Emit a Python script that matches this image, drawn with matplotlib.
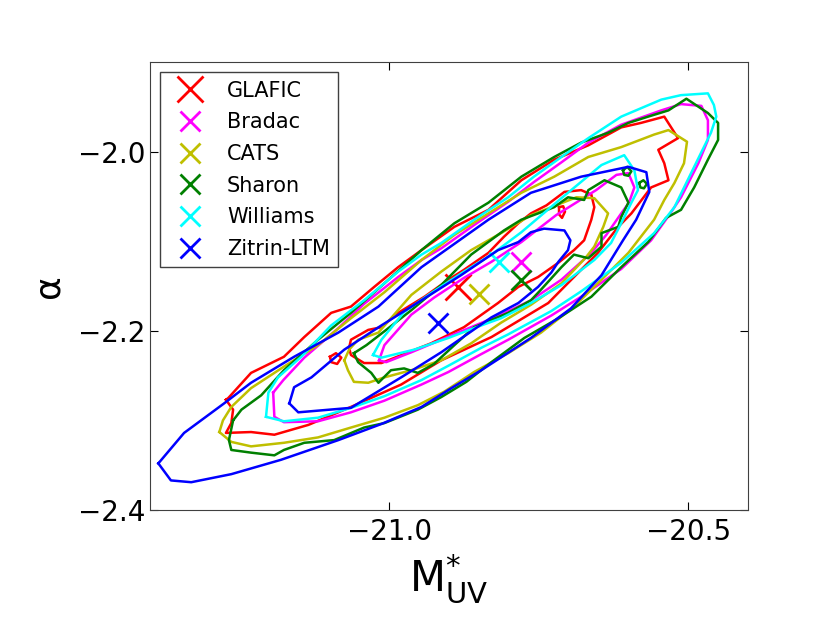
import numpy as np
import matplotlib
matplotlib.use("Agg")
import matplotlib.pyplot as plt

# best-fit points (M_UV*, alpha) for each lens model
models = ["GLAFIC", "Bradac", "CATS", "Sharon", "Williams", "Zitrin-LTM"]
best_m = [-20.885, -20.779, -20.849, -20.779, -20.816, -20.918]
best_a = [-2.151, -2.123, -2.159, -2.143, -2.123, -2.191]
colors = ["red", "magenta", "y", "g", "cyan", "blue"]

# 95% contours as (M_UV*, alpha)
glafic_out = [(-21.273, -2.277), (-21.261, -2.288), (-21.264, -2.303), (-21.273, -2.314), (-21.231, -2.313),
              (-21.192, -2.316), (-21.135, -2.305), (-21.064, -2.285), (-20.980, -2.260), (-20.913, -2.233),
              (-20.829, -2.207), (-20.774, -2.185), (-20.734, -2.169), (-20.691, -2.140), (-20.651, -2.113),
              (-20.617, -2.084), (-20.595, -2.069), (-20.562, -2.040), (-20.533, -2.032), (-20.540, -2.013),
              (-20.550, -1.998), (-20.517, -1.985), (-20.540, -1.961), (-20.579, -1.968),
              (-20.612, -1.973), (-20.667, -1.993), (-20.724, -2.009), (-20.779, -2.032), (-20.834, -2.065),
              (-20.891, -2.084), (-20.946, -2.110), (-20.985, -2.129), (-21.025, -2.151), (-21.064, -2.173),
              (-21.097, -2.180), (-21.142, -2.207), (-21.176, -2.229), (-21.231, -2.247), (-21.269, -2.275)]
bradac_out = [(-21.194, -2.269), (-21.192, -2.296), (-21.176, -2.302), (-21.119, -2.301), (-21.064, -2.291),
              (-21.008, -2.278), (-20.946, -2.260), (-20.901, -2.246), (-20.846, -2.226), (-20.801, -2.210),
              (-20.729, -2.183), (-20.679, -2.162), (-20.612, -2.131), (-20.562, -2.099), (-20.532, -2.071),
              (-20.512, -2.051), (-20.483, -2.013), (-20.467, -1.987), (-20.467, -1.965), (-20.478, -1.949),
              (-20.512, -1.947), (-20.545, -1.954), (-20.612, -1.970), (-20.667, -1.990), (-20.712, -2.012),
              (-20.758, -2.034), (-20.801, -2.056), (-20.858, -2.082), (-20.913, -2.108), (-20.946, -2.121),
              (-20.985, -2.140), (-21.042, -2.170), (-21.085, -2.197), (-21.142, -2.230), (-21.177, -2.255)]
cats_out = [(-21.284, -2.313), (-21.264, -2.324), (-21.231, -2.329), (-21.176, -2.325), (-21.119, -2.319),
            (-21.064, -2.308), (-21.008, -2.297), (-20.952, -2.283), (-20.908, -2.268), (-20.858, -2.246),
            (-20.801, -2.225), (-20.746, -2.202), (-20.691, -2.173), (-20.645, -2.143), (-20.600, -2.113),
            (-20.557, -2.076), (-20.540, -2.054), (-20.523, -2.035), (-20.507, -2.013), (-20.502, -1.989),
            (-20.533, -1.976), (-20.557, -1.981), (-20.612, -1.995), (-20.667, -2.006), (-20.724, -2.028),
            (-20.779, -2.046), (-20.834, -2.069), (-20.891, -2.093), (-20.946, -2.121), (-21.008, -2.157),
            (-21.064, -2.186), (-21.119, -2.216), (-21.176, -2.240), (-21.231, -2.264), (-21.264, -2.285),
            (-21.278, -2.300)]
sharon_out = [(-21.261, -2.300), (-21.268, -2.322), (-21.264, -2.333), (-21.231, -2.336), (-21.192, -2.339),
              (-21.176, -2.333), (-21.142, -2.325), (-21.092, -2.322), (-21.042, -2.308), (-21.008, -2.303),
              (-20.952, -2.288), (-20.913, -2.274), (-20.871, -2.257), (-20.829, -2.235), (-20.774, -2.208),
              (-20.717, -2.186), (-20.662, -2.162), (-20.612, -2.129), (-20.567, -2.101), (-20.537, -2.074),
              (-20.512, -2.065), (-20.490, -2.040), (-20.467, -2.009), (-20.450, -1.987), (-20.450, -1.968),
              (-20.467, -1.957), (-20.503, -1.941), (-20.533, -1.954), (-20.567, -1.961), (-20.600, -1.968),
              (-20.634, -1.979), (-20.679, -1.990), (-20.724, -2.006), (-20.779, -2.028), (-20.834, -2.057),
              (-20.891, -2.080), (-20.946, -2.110), (-21.008, -2.147), (-21.064, -2.180), (-21.119, -2.210),
              (-21.176, -2.244), (-21.214, -2.272), (-21.247, -2.288)]
williams_out = [(-21.206, -2.296), (-21.176, -2.301), (-21.119, -2.297), (-21.064, -2.286), (-21.008, -2.273),
                (-20.946, -2.255), (-20.901, -2.239), (-20.846, -2.219), (-20.801, -2.204), (-20.729, -2.178),
                (-20.679, -2.156), (-20.612, -2.124), (-20.557, -2.091), (-20.523, -2.062), (-20.490, -2.017),
                (-20.462, -1.979), (-20.453, -1.961), (-20.457, -1.948), (-20.467, -1.935), (-20.512, -1.937),
                (-20.545, -1.942), (-20.612, -1.961), (-20.667, -1.985), (-20.712, -2.006), (-20.758, -2.028),
                (-20.801, -2.051), (-20.858, -2.076), (-20.913, -2.102), (-20.946, -2.115), (-20.985, -2.134),
                (-21.042, -2.166), (-21.097, -2.194), (-21.147, -2.229), (-21.186, -2.252), (-21.202, -2.269)]
zitrin_out = [(-21.386, -2.348), (-21.365, -2.367), (-21.331, -2.369), (-21.264, -2.360), (-21.181, -2.344),
              (-21.085, -2.322), (-21.013, -2.304), (-20.946, -2.285), (-20.896, -2.264), (-20.846, -2.244),
              (-20.763, -2.208), (-20.696, -2.175), (-20.645, -2.138), (-20.609, -2.099), (-20.587, -2.076),
              (-20.565, -2.045), (-20.570, -2.023), (-20.600, -2.017), (-20.679, -2.028), (-20.763, -2.046),
              (-20.834, -2.076), (-20.946, -2.129), (-21.018, -2.173), (-21.085, -2.202), (-21.159, -2.229),
              (-21.231, -2.258), (-21.276, -2.281), (-21.343, -2.314)]

# 68% contours
glafic_in = [(-21.067, -2.219), (-21.064, -2.210), (-21.035, -2.199), (-21.013, -2.196), (-20.985, -2.180),
             (-20.941, -2.162), (-20.901, -2.143), (-20.875, -2.132), (-20.834, -2.113), (-20.808, -2.095),
             (-20.784, -2.080), (-20.763, -2.069), (-20.737, -2.060), (-20.707, -2.045), (-20.679, -2.043),
             (-20.662, -2.048), (-20.657, -2.062), (-20.662, -2.076), (-20.674, -2.099), (-20.691, -2.110),
             (-20.717, -2.124), (-20.751, -2.140), (-20.784, -2.151), (-20.818, -2.169), (-20.875, -2.196),
             (-20.930, -2.214), (-20.968, -2.224), (-21.013, -2.236), (-21.042, -2.236), (-21.064, -2.227)]
bradac_in = [(-21.017, -2.233), (-21.008, -2.216), (-20.963, -2.182), (-20.925, -2.163), (-20.875, -2.141),
             (-20.829, -2.123), (-20.779, -2.101), (-20.721, -2.071), (-20.654, -2.043), (-20.620, -2.026),
             (-20.600, -2.024), (-20.590, -2.040), (-20.599, -2.057), (-20.612, -2.069), (-20.637, -2.093),
             (-20.662, -2.113), (-20.712, -2.143), (-20.763, -2.166), (-20.813, -2.182), (-20.863, -2.196),
             (-20.913, -2.210), (-20.963, -2.224), (-21.005, -2.235)]
cats_in = [(-21.075, -2.233), (-21.069, -2.244), (-21.059, -2.257), (-21.035, -2.258), (-21.008, -2.252),
           (-20.963, -2.244), (-20.913, -2.233), (-20.863, -2.214), (-20.813, -2.191), (-20.763, -2.171),
           (-20.712, -2.147), (-20.671, -2.118), (-20.657, -2.106), (-20.642, -2.084), (-20.634, -2.069),
           (-20.657, -2.052), (-20.687, -2.051), (-20.721, -2.060), (-20.763, -2.071), (-20.813, -2.091),
           (-20.863, -2.110), (-20.913, -2.134), (-20.963, -2.160), (-21.018, -2.202), (-21.052, -2.210),
           (-21.067, -2.221)]
sharon_in = [(-21.059, -2.225), (-21.038, -2.216), (-21.005, -2.199), (-20.963, -2.177), (-20.913, -2.149),
             (-20.863, -2.115), (-20.808, -2.088), (-20.779, -2.076), (-20.751, -2.069), (-20.724, -2.062),
             (-20.701, -2.051), (-20.674, -2.054), (-20.667, -2.043), (-20.640, -2.032), (-20.612, -2.040),
             (-20.600, -2.057), (-20.612, -2.073), (-20.617, -2.084), (-20.645, -2.091), (-20.645, -2.106),
             (-20.667, -2.119), (-20.691, -2.115), (-20.712, -2.129), (-20.746, -2.154), (-20.763, -2.166),
             (-20.801, -2.180), (-20.858, -2.196), (-20.891, -2.216), (-20.925, -2.237), (-20.952, -2.247),
             (-20.975, -2.242), (-20.997, -2.244), (-21.018, -2.258), (-21.030, -2.247), (-21.052, -2.235)]
williams_in = [(-21.027, -2.227), (-21.013, -2.210), (-20.975, -2.179), (-20.930, -2.158), (-20.875, -2.134),
               (-20.829, -2.115), (-20.779, -2.090), (-20.712, -2.052), (-20.645, -2.015), (-20.607, -2.004),
               (-20.590, -2.021), (-20.584, -2.043), (-20.595, -2.057), (-20.612, -2.080), (-20.629, -2.102),
               (-20.657, -2.121), (-20.712, -2.149), (-20.763, -2.169), (-20.813, -2.186), (-20.858, -2.197),
               (-20.901, -2.208), (-20.958, -2.221), (-21.013, -2.230)]
zitrin_in = [(-21.167, -2.281), (-21.159, -2.263), (-21.130, -2.252), (-21.075, -2.221), (-21.013, -2.194),
             (-20.946, -2.166), (-20.880, -2.138), (-20.818, -2.110), (-20.784, -2.101), (-20.763, -2.090),
             (-20.741, -2.086), (-20.707, -2.088), (-20.697, -2.099), (-20.701, -2.110), (-20.717, -2.123),
             (-20.729, -2.135), (-20.751, -2.151), (-20.784, -2.169), (-20.829, -2.185), (-20.913, -2.224),
             (-20.980, -2.252), (-21.064, -2.286), (-21.152, -2.291)]

# small islands of the 68% level
glafic_isl = [[(-21.099, -2.229), (-21.089, -2.225), (-21.080, -2.230), (-21.087, -2.237), (-21.097, -2.235)],
              [(-20.716, -2.062), (-20.709, -2.061), (-20.706, -2.067), (-20.711, -2.074), (-20.716, -2.070)]]
sharon_isl = [[(-20.609, -2.021), (-20.602, -2.017), (-20.595, -2.022), (-20.600, -2.027), (-20.607, -2.026)],
              [(-20.582, -2.035), (-20.575, -2.032), (-20.569, -2.036), (-20.574, -2.041), (-20.580, -2.040)]]

outers = [glafic_out, bradac_out, cats_out, sharon_out, williams_out, zitrin_out]
inners = [glafic_in, bradac_in, cats_in, sharon_in, williams_in, zitrin_in]
islands = [glafic_isl, [], [], sharon_isl, [], []]
msizes = [19, 14, 14, 14, 14, 14]


def closed(pts):
    a = np.array(pts + [pts[0]])
    return a[:, 0], a[:, 1]


fig = plt.figure(figsize=(8.3, 6.23), dpi=100)
ax = fig.add_axes([0.1807, 0.1814, 0.7205, 0.7191])

handles = []
for i in range(len(models)):
    c = colors[i]
    for poly in [outers[i], inners[i]] + islands[i]:
        x, y = closed(poly)
        ax.plot(x, y, color=c, lw=1.8)
    h, = ax.plot(best_m[i], best_a[i], "x", color=c, ms=msizes[i], mew=2, label=models[i])
    handles.append(h)

ax.set_xlim(-21.4, -20.4)
ax.set_ylim(-2.4, -1.9)
ax.set_xticks([-21.0, -20.5])
ax.set_yticks([-2.4, -2.2, -2.0])
ax.set_xticklabels(["\u221221.0", "\u221220.5"])
ax.set_yticklabels(["\u22122.4", "\u22122.2", "\u22122.0"])
ax.tick_params(direction="in", top=True, right=True, length=6, labelsize=20)
ax.tick_params(axis="x", pad=6)
ax.tick_params(axis="y", pad=3)
for s in ax.spines.values():
    s.set_color("0.25")

ax.set_xlabel(r"$\mathrm{M}^{*}_{\mathrm{UV}}$", fontsize=30, labelpad=4)
ax.set_ylabel("\u03b1", fontsize=26, labelpad=9)

leg = ax.legend(handles=handles, loc="upper left", numpoints=1, fontsize=15,
                fancybox=False, framealpha=1, labelspacing=0.56,
                borderaxespad=0.5, handletextpad=0.8)
leg.get_frame().set_edgecolor("0.25")

fig.savefig("out.png", dpi=100)
